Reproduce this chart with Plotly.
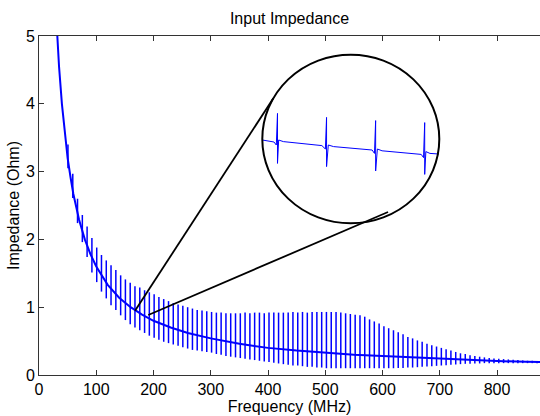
import plotly.graph_objects as go

# ---------------- data ----------------
# smooth background curve of the input impedance
base_freq = [31, 35, 40, 45, 50, 55, 60, 70, 80, 90, 100, 120, 140, 160, 180, 200,
             230, 260, 300, 350, 400, 450, 500, 550, 600, 650, 700, 750, 800, 850, 876]
base_z = [5.15, 4.55, 4.0, 3.55, 3.2, 2.92, 2.67, 2.29, 2.0, 1.78, 1.60, 1.33, 1.14, 1.0,
          0.89, 0.80, 0.70, 0.62, 0.54, 0.46, 0.40, 0.36, 0.325, 0.30, 0.28, 0.26, 0.235,
          0.22, 0.205, 0.195, 0.19]

# resonance spikes: frequency, maximum and minimum of each spike
spike_freq = [50.6, 59.0, 67.3, 75.7, 84.0, 92.4, 100.8, 109.1, 117.5, 125.8,
              134.2, 142.6, 150.9, 159.3, 167.6, 176.0, 184.4, 192.7, 201.1, 209.4,
              217.8, 226.2, 234.5, 242.9, 251.2, 259.6, 268.0, 276.3, 284.7, 293.0,
              301.4, 309.8, 318.1, 326.5, 334.8, 343.2, 351.6, 359.9, 368.3, 376.6,
              385.0, 393.4, 401.7, 410.1, 418.4, 426.8, 435.2, 443.5, 451.9, 460.2,
              468.6, 477.0, 485.3, 493.7, 502.0, 510.4, 518.8, 527.1, 535.5, 543.8,
              552.2, 560.6, 568.9, 577.3, 585.6, 594.0, 602.4, 610.7, 619.1, 627.4,
              635.8, 644.2, 652.5, 660.9, 669.2, 677.6, 686.0, 694.3, 702.7, 711.0,
              719.4, 727.8, 736.1, 744.5, 752.8, 761.2, 769.6, 777.9, 786.3, 794.6,
              803.0, 811.4, 819.7, 828.1, 836.4, 844.8, 853.2, 861.5, 869.9]
spike_top = [3.40, 2.97, 2.60, 2.36, 2.19, 2.02, 1.88, 1.77, 1.69, 1.62,
             1.55, 1.47, 1.41, 1.36, 1.31, 1.29, 1.25, 1.22, 1.19, 1.15,
             1.12, 1.09, 1.06, 1.04, 1.02, 1.00, 0.98, 0.96, 0.95, 0.94,
             0.93, 0.92, 0.92, 0.91, 0.91, 0.91, 0.91, 0.92, 0.91, 0.92,
             0.92, 0.91, 0.92, 0.92, 0.92, 0.92, 0.92, 0.93, 0.92, 0.93,
             0.92, 0.93, 0.93, 0.93, 0.93, 0.93, 0.93, 0.92, 0.91, 0.90,
             0.89, 0.88, 0.86, 0.82, 0.79, 0.76, 0.72, 0.69, 0.66, 0.63,
             0.60, 0.56, 0.54, 0.51, 0.49, 0.46, 0.44, 0.42, 0.40, 0.38,
             0.36, 0.34, 0.32, 0.31, 0.29, 0.28, 0.27, 0.26, 0.25, 0.245,
             0.24, 0.235, 0.23, 0.225, 0.22, 0.215, 0.21, 0.21, 0.205]
spike_bottom = [3.05, 2.61, 2.24, 1.96, 1.74, 1.51, 1.37, 1.23, 1.13, 1.03,
                0.96, 0.88, 0.81, 0.75, 0.70, 0.66, 0.62, 0.58, 0.55, 0.52,
                0.49, 0.47, 0.45, 0.43, 0.41, 0.39, 0.37, 0.36, 0.35, 0.34,
                0.33, 0.31, 0.30, 0.28, 0.27, 0.26, 0.25, 0.24, 0.23, 0.22,
                0.21, 0.20, 0.19, 0.18, 0.17, 0.16, 0.15, 0.14, 0.14, 0.13,
                0.12, 0.12, 0.11, 0.11, 0.10, 0.10, 0.10, 0.10, 0.10, 0.10,
                0.10, 0.10, 0.10, 0.10, 0.10, 0.10, 0.10, 0.10, 0.10, 0.105,
                0.105, 0.11, 0.11, 0.115, 0.12, 0.125, 0.13, 0.135, 0.14, 0.145,
                0.15, 0.155, 0.16, 0.165, 0.165, 0.17, 0.17, 0.175, 0.175, 0.175,
                0.175, 0.175, 0.175, 0.175, 0.175, 0.175, 0.175, 0.175, 0.175]

# magnified detail shown inside the circle (four resonances)
inset_freq = [164.4, 166.4, 166.8, 167.0, 167.0, 167.2, 168.0, 174.6, 175.2, 175.4, 175.4,
              175.7, 176.6, 183.2, 183.6, 183.8, 183.8, 184.1, 184.9, 191.6, 192.0,
              192.2, 192.2, 192.4, 193.1, 194.6]
inset_z = [0.945, 0.935, 0.92, 1.078, 0.828, 0.945, 0.937, 0.917, 0.90, 1.058, 0.812,
           0.92, 0.912, 0.895, 0.878, 1.042, 0.79, 0.90, 0.891, 0.873, 0.857,
           1.032, 0.773, 0.887, 0.878, 0.875]

x_ticks = [0, 100, 200, 300, 400, 500, 600, 700, 800]
y_ticks = [0, 1, 2, 3, 4, 5]

# ---------------- figure ----------------
BLUE = "#0000ff"
AX = "#333333"
FONT = "Liberation Sans, Arial, sans-serif"

spk_x, spk_y = [], []
for f, t, b in zip(spike_freq, spike_top, spike_bottom):
    spk_x += [f, f, None]
    spk_y += [b, t, None]

fig = go.Figure()
fig.add_trace(go.Scatter(x=base_freq, y=base_z, mode="lines",
                         line=dict(color=BLUE, width=2), hoverinfo="skip"))
fig.add_trace(go.Scatter(x=spk_x, y=spk_y, mode="lines",
                         line=dict(color=BLUE, width=1.5), hoverinfo="skip"))
fig.add_trace(go.Scatter(x=inset_freq, y=inset_z, mode="lines", xaxis="x2", yaxis="y2",
                         line=dict(color=BLUE, width=1), hoverinfo="skip"))

W, H = 540, 416
L, R, T, B = 39, 0, 36, 41
pw, ph = W - L - R, H - T - B

def px(xp):
    return (xp - L) / pw

def py(yp):
    return (H - B - yp) / ph

cx0, cx1, cy0, cy1 = px(262.3), px(439.3), py(223.3), py(54.7)

fig.update_layout(
    width=W, height=H,
    margin=dict(l=L, r=R, t=T, b=B),
    paper_bgcolor="white", plot_bgcolor="white",
    showlegend=False,
    font=dict(family=FONT, size=16, color="black"),
    title=dict(text="Input Impedance", x=0.5, xref="paper", xanchor="center",
               y=1 - 18 / H, yref="container", yanchor="middle",
               font=dict(size=16, family=FONT, color="black")),
    xaxis=dict(range=[0, 875], tickvals=x_ticks, ticks="inside", ticklen=5,
               tickcolor=AX, showline=True, linecolor=AX, linewidth=1, mirror="ticks",
               showgrid=False, zeroline=False, tickfont=dict(size=16),
               title=dict(text="Frequency (MHz)", standoff=2, font=dict(size=16))),
    yaxis=dict(range=[0, 5], tickvals=y_ticks, ticks="inside", ticklen=5,
               tickcolor=AX, showline=True, linecolor=AX, linewidth=1,
               showgrid=False, zeroline=False, tickfont=dict(size=16),
               title=dict(text="Impedance (Ohm)", standoff=2, font=dict(size=16))),
    xaxis2=dict(domain=[cx0, cx1], range=[164.4, 194.7], anchor="y2", visible=False),
    yaxis2=dict(domain=[cy0, cy1], range=[0.5285, 1.3715], anchor="x2", visible=False),
    shapes=[
        dict(type="circle", xref="paper", yref="paper", x0=cx0, x1=cx1, y0=cy0, y1=cy1,
             line=dict(color="black", width=2)),
        dict(type="line", xref="x", yref="y", x0=167.7, y0=0.948, x1=409.3, y1=4.081,
             line=dict(color="black", width=1.8)),
        dict(type="line", xref="x", yref="y", x0=190.9, y0=0.885, x1=609.6, y1=2.404,
             line=dict(color="black", width=1.8)),
    ],
)

fig.write_html("out.html", config={"displayModeBar": False},
               post_script="document.body.style.margin='0';document.body.style.overflow='hidden';")
